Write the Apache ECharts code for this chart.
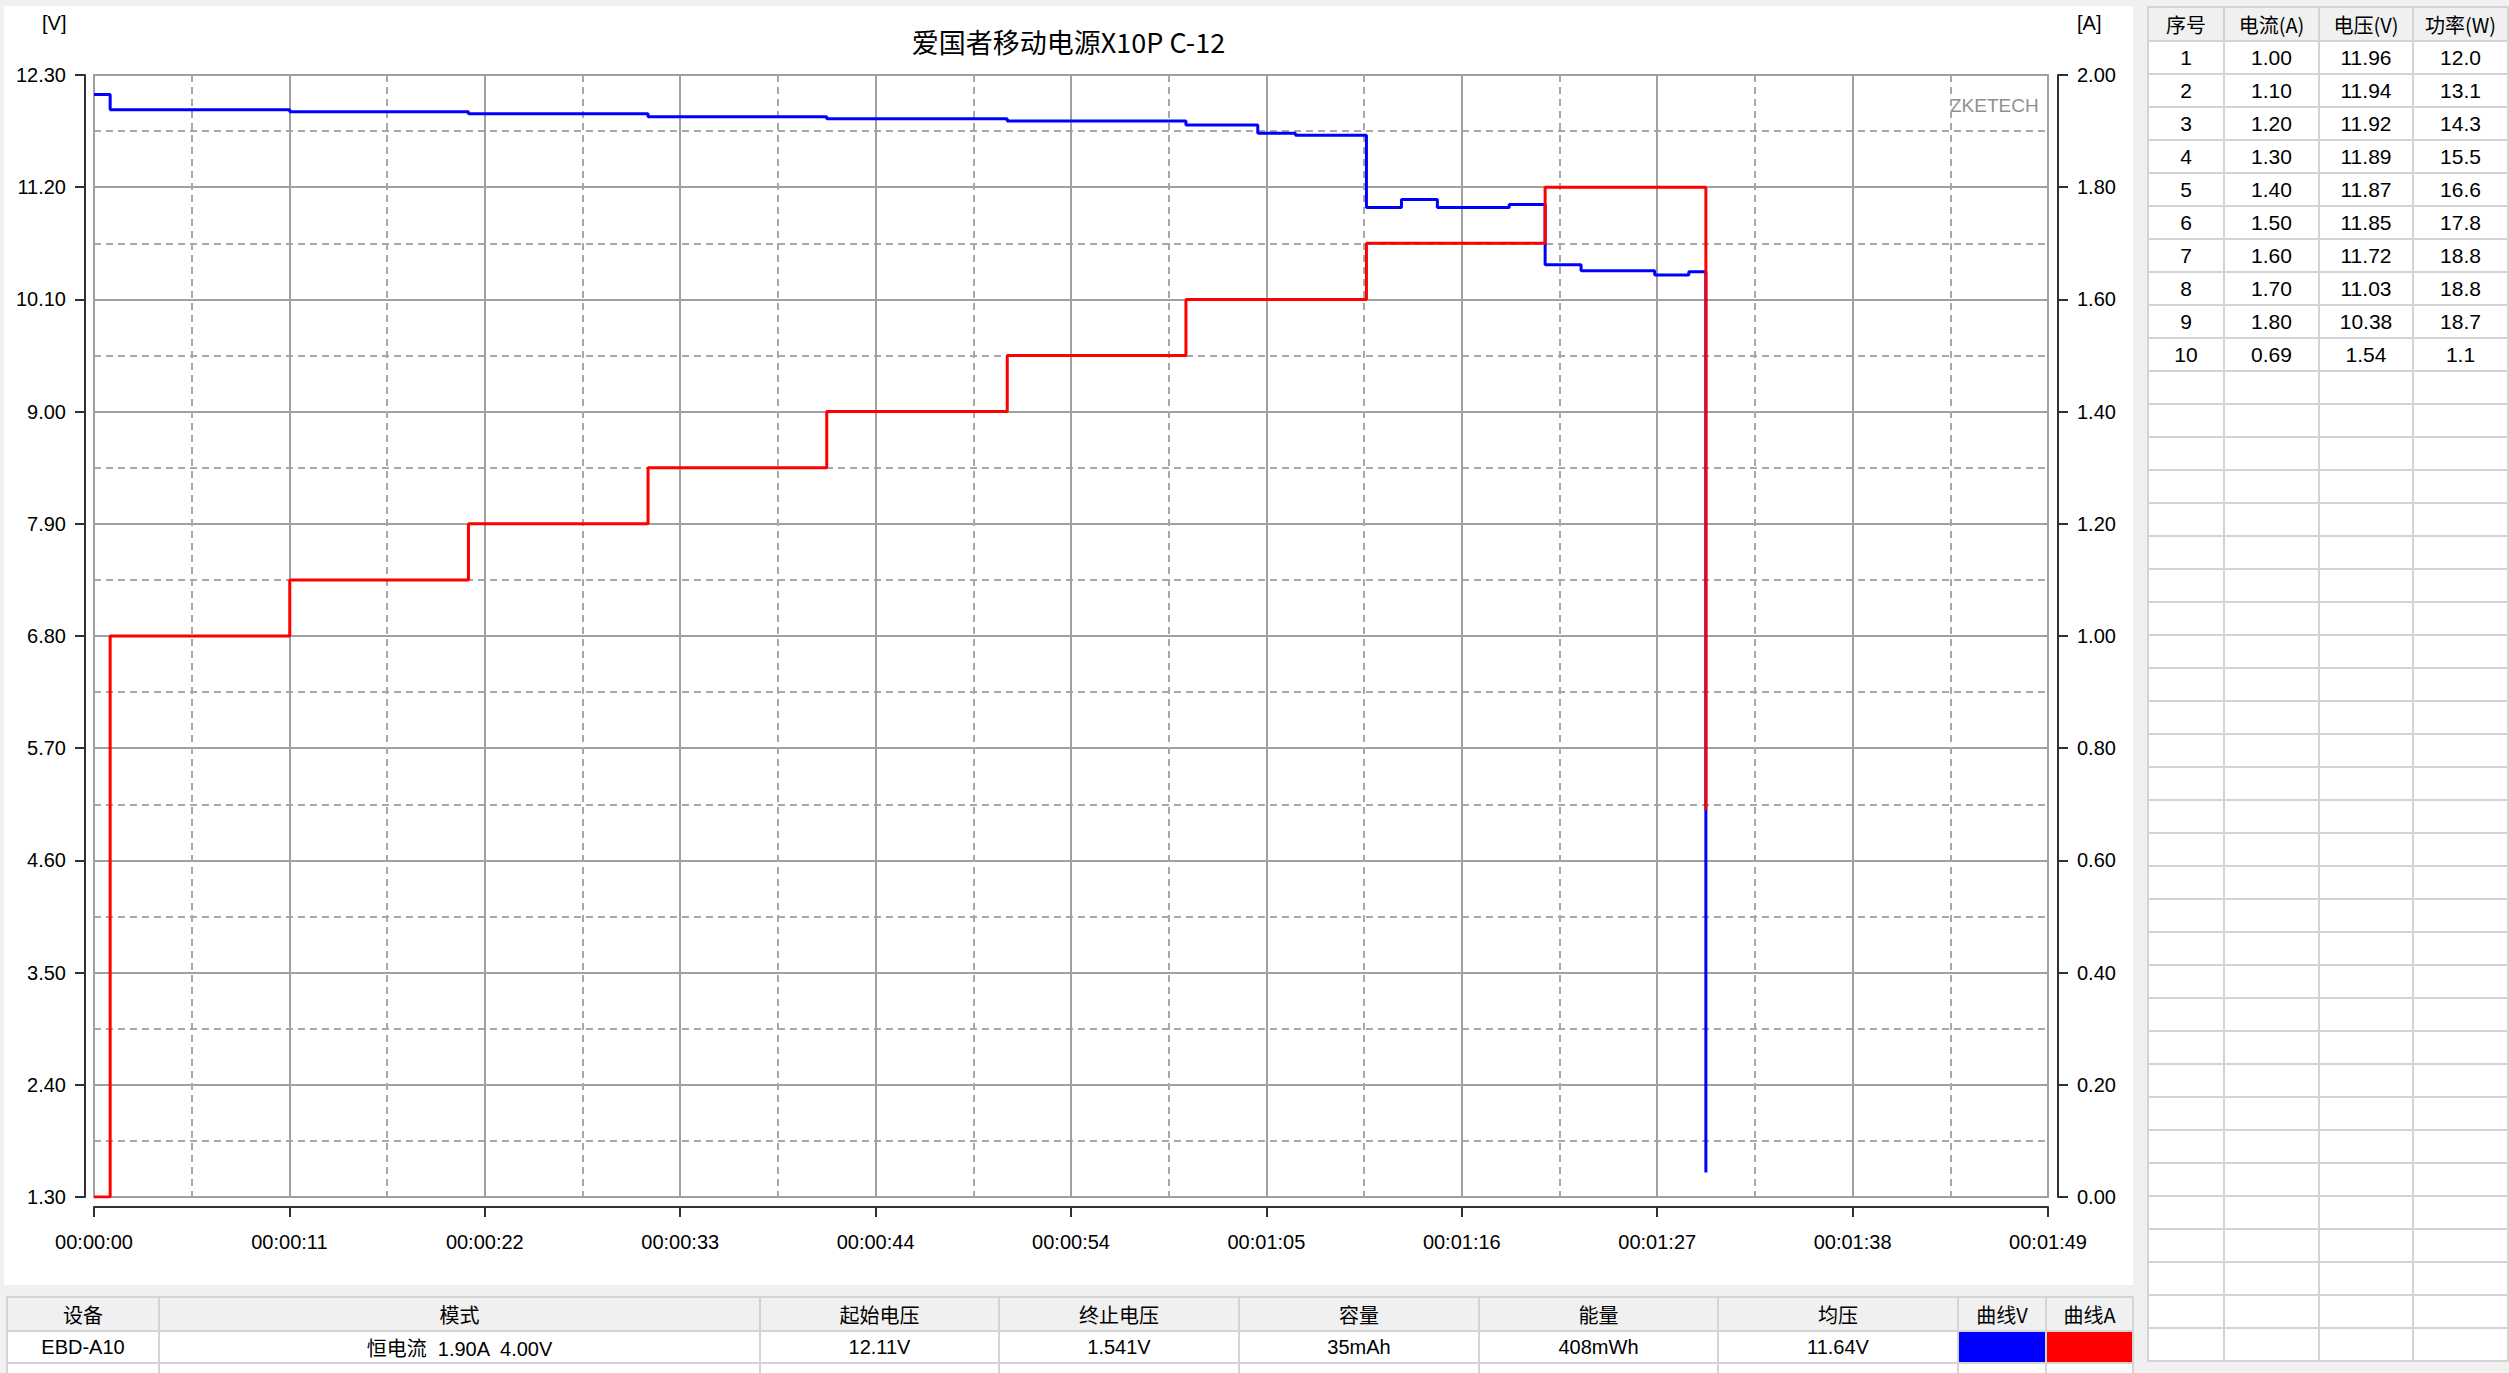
<!DOCTYPE html>
<html><head><meta charset="utf-8">
<script src="https://cdn.jsdelivr.net/npm/echarts/dist/echarts.min.js"></script>
<style>
html,body{margin:0;padding:0;background:#f0f0f0;width:2509px;height:1373px;overflow:hidden;}
#panel{position:absolute;left:4px;top:6px;width:2129px;height:1279px;background:#fff;}
#chart{position:absolute;left:0;top:0;width:2129px;height:1279px;}
table{border-collapse:collapse;position:absolute;table-layout:fixed;background:#fff;}
td{padding:0;text-align:center;vertical-align:middle;overflow:hidden;white-space:pre;color:#000;}
#rt{left:2147px;top:6px;width:360px;border:2px solid #a0a0a0;font-family:'Liberation Sans','Noto Sans CJK SC',sans-serif;font-size:21px;}
#rt td{border:2px solid #d4d4d4;height:31px;}
#rt tr.h td{background:#f0f0f0;height:32px;font-family:'Noto Sans CJK SC','Liberation Sans',sans-serif;font-size:20px;}
#bt{left:6px;top:1296px;width:2126px;border:2px solid #a0a0a0;font-family:'Liberation Sans','Noto Sans CJK SC',sans-serif;font-size:20px;}
#bt td{border:2px solid #d4d4d4;height:30px;}
#bt tr.h td{background:#f0f0f0;height:32px;font-family:'Noto Sans CJK SC','Liberation Sans',sans-serif;font-size:20px;}
</style></head>
<body>
<div id="panel"><div id="chart"></div></div>
<table id="rt"></table>
<table id="bt"></table>
<script>
// ---- chart data ----
const TITLE = '爱国者移动电源X10P C-12';
const V_TIME = [0, 0.9, 10.9, 20.85, 30.85, 40.8, 50.85, 60.8, 64.8, 66.9, 70.85, 72.8, 74.8, 78.8, 80.8, 82.8, 86.9, 88.8, 89.75];
const VOLT   = [12.11, 11.96, 11.94, 11.92, 11.89, 11.87, 11.85, 11.81, 11.73, 11.71, 11.00, 11.08, 11.00, 11.03, 10.44, 10.38, 10.34, 10.37, 1.54];
const A_TIME = [0, 0.9, 10.9, 20.85, 30.85, 40.8, 50.85, 60.8, 70.85, 80.8, 89.75];
const CURR   = [0, 1.00, 1.10, 1.20, 1.30, 1.40, 1.50, 1.60, 1.70, 1.80, 0.69];
const TIME_TICKS = ['00:00:00','00:00:11','00:00:22','00:00:33','00:00:44','00:00:54','00:01:05','00:01:16','00:01:27','00:01:38','00:01:49'];
const V_TICKS = ['1.30','2.40','3.50','4.60','5.70','6.80','7.90','9.00','10.10','11.20','12.30'];
const A_TICKS = ['0.00','0.20','0.40','0.60','0.80','1.00','1.20','1.40','1.60','1.80','2.00'];
// ---- table data ----
const T_HEAD = ['序号','电流(A)','电压(V)','功率(W)'];
const T_SEQ  = ['1','2','3','4','5','6','7','8','9','10'];
const T_CURR = ['1.00','1.10','1.20','1.30','1.40','1.50','1.60','1.70','1.80','0.69'];
const T_VOLT = ['11.96','11.94','11.92','11.89','11.87','11.85','11.72','11.03','10.38','1.54'];
const T_POW  = ['12.0','13.1','14.3','15.5','16.6','17.8','18.8','18.8','18.7','1.1'];
const S_HEAD = ['设备','模式','起始电压','终止电压','容量','能量','均压','曲线V','曲线A'];
const S_VALS = ['EBD-A10','恒电流  1.90A  4.00V','12.11V','1.541V','35mAh','408mWh','11.64V','',''];
const S_COLORS = ['#0000ff','#ff0000'];

// ---- tables ----
(function(){
  const rt = document.getElementById('rt');
  const rw = [76,95,94,95];
  let h = '<colgroup>' + rw.map(w=>'<col style="width:'+w+'px">').join('') + '</colgroup>';
  h += '<tr class="h">' + T_HEAD.map(t=>'<td>'+t+'</td>').join('') + '</tr>';
  for (let i=0;i<40;i++){
    if (i < T_SEQ.length) h += '<tr><td>'+T_SEQ[i]+'</td><td>'+T_CURR[i]+'</td><td>'+T_VOLT[i]+'</td><td>'+T_POW[i]+'</td></tr>';
    else h += '<tr><td></td><td></td><td></td><td></td></tr>';
  }
  rt.innerHTML = h;
  const bt = document.getElementById('bt');
  const bw = [152,601,239,240,240,239,240,88,87];
  let b = '<colgroup>' + bw.map(w=>'<col style="width:'+w+'px">').join('') + '</colgroup>';
  b += '<tr class="h">' + S_HEAD.map(t=>'<td>'+t+'</td>').join('') + '</tr>';
  b += '<tr>' + S_VALS.map((t,i)=>{
    const ci = i - (S_VALS.length-2);
    return '<td' + (ci>=0 ? ' style="background:'+S_COLORS[ci]+'"' : '') + '>' + t + '</td>';
  }).join('') + '</tr>';
  b += '<tr>' + S_VALS.map(()=>'<td></td>').join('') + '</tr>';
  bt.innerHTML = b;
})();

// ---- chart ----
const X_STEP = 10.88;
const LBL = "'Liberation Sans',sans-serif";
const AX = '#303030';
const chart = echarts.init(document.getElementById('chart'), null, {renderer:'svg'});
chart.setOption({
  animation: false,
  backgroundColor: '#fff',
  title: {text: TITLE, left: 'center', top: 22, padding: 0,
    textStyle: {fontFamily: "'Noto Sans CJK SC',sans-serif", fontSize: 27, fontWeight: 'normal', color: '#000'}},
  grid: {left: 90, top: 69, width: 1954, height: 1122, show: true, borderColor: '#a0a0a0', borderWidth: 2, backgroundColor: '#fff'},
  graphic: [
    {type: 'text', left: 38, top: 7, style: {text: '[V]', font: '20px ' + LBL, fill: '#000'}},
    {type: 'text', left: 2073, top: 7, style: {text: '[A]', font: '20px ' + LBL, fill: '#000'}},
    {type: 'text', left: 1946, top: 90, style: {text: 'ZKETECH', font: '19px ' + LBL, fill: '#909090'}}
  ],
  xAxis: {
    type: 'value', min: 0, max: 108.8, interval: X_STEP, offset: 10,
    axisLine: {show: true, onZero: false, lineStyle: {color: AX, width: 2}},
    axisTick: {show: true, length: 10, lineStyle: {color: AX, width: 2}},
    axisLabel: {margin: 25, fontFamily: LBL, fontSize: 20, color: '#000',
      formatter: v => TIME_TICKS[Math.round(v / X_STEP)]},
    splitLine: {show: true, lineStyle: {color: '#a0a0a0', width: 2}},
    minorTick: {show: false, splitNumber: 2},
    minorSplitLine: {show: true, lineStyle: {color: '#a8a8a8', width: 2, type: [7, 5]}}
  },
  yAxis: [
    {type: 'value', position: 'left', min: 1.3, max: 12.3, interval: 1.1, offset: 9,
      axisLine: {show: true, onZero: false, lineStyle: {color: AX, width: 2}},
      axisTick: {show: true, length: 10, lineStyle: {color: AX, width: 2}},
      axisLabel: {margin: 19, fontFamily: LBL, fontSize: 20, color: '#000',
        formatter: v => V_TICKS[Math.round((v - 1.3) / 1.1)]},
      splitLine: {show: true, lineStyle: {color: '#a0a0a0', width: 2}},
      minorTick: {show: false, splitNumber: 2},
      minorSplitLine: {show: true, lineStyle: {color: '#a8a8a8', width: 2, type: [7, 5]}}
    },
    {type: 'value', position: 'right', min: 0, max: 2, interval: 0.2, offset: 10,
      axisLine: {show: true, onZero: false, lineStyle: {color: AX, width: 2}},
      axisTick: {show: true, length: 10, lineStyle: {color: AX, width: 2}},
      axisLabel: {margin: 19, fontFamily: LBL, fontSize: 20, color: '#000',
        formatter: v => A_TICKS[Math.round(v / 0.2)]},
      splitLine: {show: false}
    }
  ],
  series: [
    {name: 'V', type: 'line', step: 'end', yAxisIndex: 0, showSymbol: false, symbol: 'none',
      data: V_TIME.map((t, i) => [t, VOLT[i]]),
      lineStyle: {color: '#0000ff', width: 3}, itemStyle: {color: '#0000ff'}},
    {name: 'A', type: 'line', step: 'end', yAxisIndex: 1, showSymbol: false, symbol: 'none',
      data: A_TIME.map((t, i) => [t, CURR[i]]),
      lineStyle: {color: '#ff0000', width: 3}, itemStyle: {color: '#ff0000'}}
  ]
});
</script>
</body></html>
